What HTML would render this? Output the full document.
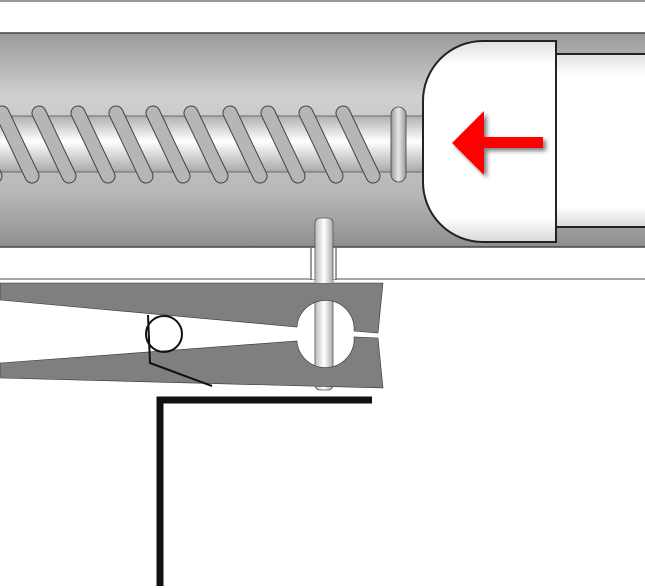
<!DOCTYPE html>
<html><head><style>body{margin:0;background:#fff}svg{display:block}</style></head><body>
<svg width="645" height="588" viewBox="0 0 645 588" xmlns="http://www.w3.org/2000/svg">
<defs>
<linearGradient id="tube" x1="0" y1="0" x2="0" y2="1">
<stop offset="0" stop-color="#9a9a9a"/><stop offset="0.3" stop-color="#d0d0d0"/><stop offset="0.5" stop-color="#c4c4c4"/><stop offset="0.75" stop-color="#b8b8b8"/><stop offset="1" stop-color="#8e8e8e"/></linearGradient>
<linearGradient id="shaft" x1="0" y1="0" x2="0" y2="1">
<stop offset="0" stop-color="#b0b0b0"/><stop offset="0.45" stop-color="#ffffff"/><stop offset="1" stop-color="#a8a8a8"/></linearGradient>
<linearGradient id="white" x1="0" y1="0" x2="0" y2="1">
<stop offset="0" stop-color="#e0e0e0"/><stop offset="0.12" stop-color="#fff"/><stop offset="0.88" stop-color="#fff"/><stop offset="1" stop-color="#d8d8d8"/></linearGradient>
<linearGradient id="pin" x1="0" y1="0" x2="1" y2="0">
<stop offset="0" stop-color="#bbb"/><stop offset="0.5" stop-color="#fff"/><stop offset="1" stop-color="#aaa"/></linearGradient>
<linearGradient id="ring" x1="0" y1="0" x2="1" y2="0">
<stop offset="0" stop-color="#999"/><stop offset="0.5" stop-color="#e8e8e8"/><stop offset="1" stop-color="#999"/></linearGradient>
<filter id="sh"><feDropShadow dx="3" dy="3" stdDeviation="2" flood-color="#000" flood-opacity="0.5"/></filter>
</defs>
<line x1="0" y1="1" x2="645" y2="1" stroke="#777" stroke-width="1.5"/>
<rect x="-2" y="33" width="650" height="214" fill="url(#tube)" stroke="#444" stroke-width="1.5"/>
<rect x="-2" y="116" width="426" height="56" fill="url(#shaft)" stroke="#555" stroke-width="0.8"/>
<g stroke-linecap="round">
<g stroke="#444" stroke-width="15">
<path d="M-35,113 L-5,176 M2,113 L32,176 M39,113 L69,176 M78,113 L108,176 M116,113 L146,176 M153,113 L183,176 M191,113 L221,176 M230,113 L260,176 M268,113 L298,176 M306,113 L336,176 M343,113 L373,176"/>
</g>
<g stroke="#b6b6b6" stroke-width="13">
<path d="M-35,113 L-5,176 M2,113 L32,176 M39,113 L69,176 M78,113 L108,176 M116,113 L146,176 M153,113 L183,176 M191,113 L221,176 M230,113 L260,176 M268,113 L298,176 M306,113 L336,176 M343,113 L373,176"/>
</g>
</g>
<rect x="391" y="107" width="15" height="75" rx="7.5" fill="url(#ring)" stroke="#444" stroke-width="0.8"/>
<rect x="556" y="54" width="92" height="173" fill="url(#white)" stroke="#222" stroke-width="2"/>
<path d="M483,41 H556 V242 H483 A60,60 0 0 1 423,182 V101 A60,60 0 0 1 483,41 Z" fill="url(#white)" stroke="#222" stroke-width="2"/>
<path d="M452,143 L484,111 L484,137 L543,137 L543,148 L484,148 L484,175 Z" fill="#f00" filter="url(#sh)"/>
<line x1="0" y1="279" x2="645" y2="279" stroke="#888" stroke-width="1.5"/>
<rect x="310" y="248" width="27" height="31" fill="#fff"/>
<line x1="311" y1="248" x2="311" y2="280" stroke="#333"/><line x1="336" y1="248" x2="336" y2="280" stroke="#333"/>
<rect x="315" y="218" width="18" height="172" rx="5" fill="url(#pin)" stroke="#555" stroke-width="0.8"/>
<path d="M0,283 H383 L378,333 L354,331 A28,28 0 0 0 297,327 L0,300 Z" fill="#7f7f7f" stroke="#333" stroke-width="0.6"/>
<path d="M0,363 L297,341 A28,28 0 0 0 354,337 L378,338 L383,388 L0,378 Z" fill="#7f7f7f" stroke="#333" stroke-width="0.6"/>
<rect x="315" y="280" width="18" height="3" fill="url(#pin)"/>
<circle cx="164" cy="334" r="18" fill="none" stroke="#111" stroke-width="2"/>
<polyline points="148,315 150,363 212,386" fill="none" stroke="#111" stroke-width="2"/>
<polyline points="372,400 160,400 160,586" fill="none" stroke="#111" stroke-width="7"/>
</svg>
</body></html>
